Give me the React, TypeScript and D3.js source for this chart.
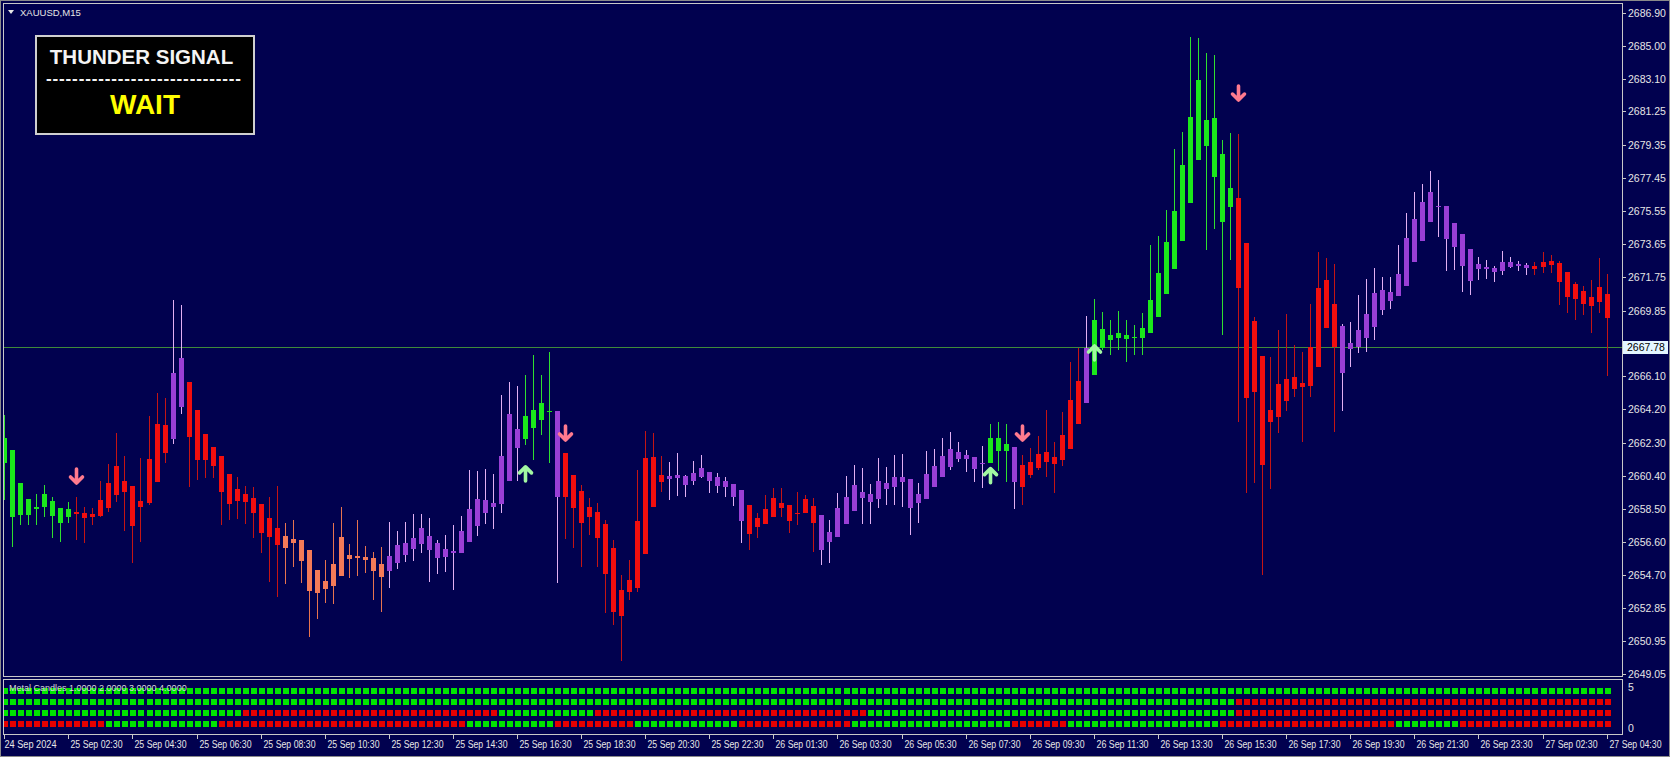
import { useEffect, useRef } from "react";
import * as d3 from "d3";

const WIDTH = 1670;
const HEIGHT = 757;

const SYMBOL = "XAUUSD,M15";
const LAST_PRICE = 2667.78;
const SIGNAL_TITLE = "THUNDER SIGNAL";
const SIGNAL_STATE = "WAIT";
const INDICATOR_NAME = "Metal Candles 1.0000 2.0000 3.0000 4.0000";

// [open, high, low, close] for each M15 bar
const CANDLES: [number, number, number, number][] = [
	[2661.15, 2663.88, 2659.01, 2662.55], [2661.87, 2661.87, 2656.34, 2658.06], [2660.00, 2660.00, 2657.58, 2658.15],
	[2658.15, 2659.07, 2657.58, 2659.07], [2658.50, 2659.35, 2657.58, 2658.63], [2658.60, 2659.87, 2658.06, 2659.35],
	[2658.95, 2659.20, 2656.82, 2658.11], [2658.54, 2658.54, 2656.62, 2657.68], [2658.06, 2658.91, 2657.68, 2658.50],
	[2658.34, 2659.20, 2656.72, 2658.19], [2658.25, 2658.63, 2656.53, 2657.96], [2658.21, 2658.54, 2657.58, 2658.06],
	[2659.01, 2660.12, 2658.06, 2658.11], [2660.00, 2661.07, 2658.34, 2658.54], [2660.96, 2662.87, 2658.91, 2659.30],
	[2660.12, 2661.53, 2657.25, 2659.49], [2659.81, 2659.81, 2655.39, 2657.54], [2658.97, 2661.40, 2656.62, 2658.63],
	[2661.34, 2663.82, 2658.73, 2658.82], [2663.35, 2665.15, 2660.06, 2660.06], [2663.31, 2664.83, 2661.15, 2661.68],
	[2662.49, 2670.46, 2662.22, 2666.30], [2664.35, 2670.17, 2663.93, 2667.15], [2665.75, 2665.75, 2659.77, 2662.60],
	[2664.16, 2664.16, 2660.16, 2661.30], [2662.79, 2662.79, 2660.26, 2661.30], [2662.06, 2662.06, 2660.26, 2660.97],
	[2661.53, 2661.53, 2657.58, 2659.49], [2660.50, 2660.50, 2657.87, 2658.77], [2659.64, 2660.35, 2657.91, 2658.97],
	[2659.35, 2659.81, 2657.64, 2658.91], [2659.11, 2659.74, 2656.82, 2658.29], [2658.77, 2658.77, 2656.00, 2657.10],
	[2657.96, 2659.20, 2654.33, 2656.91], [2657.42, 2659.81, 2653.48, 2656.43], [2656.95, 2657.71, 2654.20, 2656.25],
	[2656.78, 2657.87, 2655.19, 2656.57], [2656.72, 2656.72, 2654.28, 2655.54], [2656.15, 2656.15, 2651.15, 2653.82],
	[2655.00, 2655.00, 2652.18, 2653.67], [2653.90, 2655.58, 2653.10, 2654.39], [2654.11, 2657.71, 2653.06, 2655.33],
	[2654.66, 2658.59, 2654.66, 2656.91], [2655.85, 2656.47, 2654.53, 2655.62], [2655.71, 2657.87, 2654.66, 2655.82],
	[2655.77, 2656.38, 2654.85, 2655.58], [2655.69, 2656.05, 2653.29, 2654.95], [2654.62, 2656.31, 2652.62, 2655.35],
	[2654.96, 2657.77, 2653.96, 2655.81], [2655.39, 2657.25, 2655.04, 2656.43], [2655.86, 2657.77, 2655.48, 2656.57],
	[2656.21, 2658.19, 2655.52, 2656.85], [2656.49, 2658.19, 2655.96, 2657.39], [2656.97, 2658.00, 2654.30, 2656.15],
	[2656.57, 2656.72, 2654.76, 2655.67], [2655.77, 2657.01, 2654.91, 2656.19], [2656.09, 2657.58, 2653.86, 2655.96],
	[2655.96, 2658.11, 2655.96, 2657.23], [2656.62, 2660.73, 2656.62, 2658.50], [2657.54, 2660.67, 2656.97, 2659.07],
	[2658.29, 2660.79, 2657.62, 2659.01], [2658.59, 2660.48, 2657.35, 2658.86], [2658.77, 2665.02, 2658.25, 2661.53],
	[2660.10, 2665.78, 2660.10, 2663.93], [2663.08, 2665.55, 2660.10, 2662.01], [2662.50, 2666.17, 2662.16, 2663.82],
	[2663.15, 2667.31, 2661.30, 2664.16], [2663.59, 2666.17, 2662.73, 2664.55], [2664.10, 2667.50, 2661.11, 2664.05],
	[2664.11, 2664.11, 2654.24, 2659.20], [2661.72, 2661.72, 2656.78, 2659.20], [2660.44, 2660.44, 2656.25, 2658.54],
	[2659.53, 2659.87, 2655.19, 2657.68], [2658.63, 2659.11, 2657.01, 2658.06], [2658.34, 2658.82, 2655.19, 2656.85],
	[2657.62, 2657.87, 2652.53, 2654.76], [2656.26, 2656.72, 2651.86, 2652.60], [2653.86, 2654.72, 2649.80, 2652.37],
	[2654.43, 2655.58, 2653.29, 2653.75], [2653.98, 2660.73, 2653.75, 2657.81], [2655.92, 2662.98, 2655.92, 2661.40],
	[2658.59, 2662.83, 2658.59, 2661.49], [2660.44, 2661.53, 2659.49, 2660.06], [2660.23, 2661.20, 2659.01, 2660.39],
	[2660.29, 2661.72, 2659.24, 2660.44], [2660.40, 2660.44, 2659.17, 2659.87], [2660.12, 2661.26, 2659.87, 2660.58],
	[2660.35, 2661.59, 2660.26, 2660.86], [2660.60, 2660.60, 2659.43, 2660.10], [2660.35, 2660.58, 2659.43, 2659.83],
	[2660.12, 2660.35, 2659.17, 2659.74], [2659.93, 2659.93, 2658.67, 2659.20], [2659.58, 2659.58, 2656.53, 2657.83],
	[2658.73, 2658.73, 2656.15, 2657.06], [2657.48, 2658.25, 2656.82, 2657.96], [2657.64, 2659.30, 2657.64, 2658.50],
	[2658.02, 2659.68, 2658.02, 2659.11], [2658.86, 2659.68, 2658.02, 2658.57], [2658.73, 2658.73, 2657.10, 2657.83],
	[2658.21, 2659.49, 2657.58, 2658.29], [2658.25, 2659.30, 2658.25, 2659.05], [2658.67, 2659.11, 2656.05, 2657.68],
	[2658.15, 2658.15, 2655.29, 2656.15], [2656.62, 2657.87, 2655.39, 2657.20], [2656.91, 2659.39, 2656.91, 2658.54],
	[2657.64, 2660.39, 2657.64, 2659.20], [2658.38, 2661.02, 2658.38, 2659.87], [2659.49, 2660.83, 2657.64, 2659.14],
	[2658.91, 2659.93, 2657.64, 2659.35], [2659.07, 2661.40, 2658.54, 2660.12], [2660.00, 2660.92, 2658.73, 2659.62],
	[2659.77, 2661.59, 2658.73, 2660.35], [2660.35, 2661.64, 2658.63, 2660.06], [2660.21, 2660.21, 2657.01, 2658.54],
	[2658.86, 2659.97, 2657.71, 2659.35], [2659.07, 2661.83, 2659.07, 2660.50], [2659.77, 2661.91, 2659.77, 2660.96],
	[2660.35, 2662.55, 2660.35, 2661.53], [2660.92, 2662.89, 2660.73, 2661.93], [2661.78, 2662.35, 2661.20, 2661.34],
	[2661.59, 2661.87, 2660.63, 2661.34], [2661.46, 2661.46, 2660.06, 2660.77], [2661.10, 2662.10, 2659.68, 2661.15],
	[2661.11, 2663.36, 2661.11, 2662.55], [2662.55, 2663.49, 2660.69, 2661.83], [2661.82, 2663.35, 2660.02, 2662.20],
	[2662.03, 2662.03, 2658.50, 2660.02], [2659.77, 2661.59, 2658.73, 2661.02], [2660.44, 2661.97, 2660.26, 2661.17],
	[2660.83, 2662.69, 2660.73, 2661.63], [2661.74, 2664.16, 2660.35, 2661.20], [2661.06, 2662.35, 2659.39, 2661.49],
	[2661.30, 2664.03, 2660.97, 2662.73], [2661.93, 2666.93, 2661.93, 2664.74], [2663.35, 2667.73, 2663.35, 2665.82],
	[2664.55, 2669.54, 2664.55, 2667.73], [2666.17, 2670.52, 2666.17, 2669.31], [2667.70, 2669.76, 2667.60, 2668.80],
	[2668.17, 2669.31, 2667.31, 2668.46], [2668.27, 2669.83, 2667.60, 2668.55], [2668.23, 2669.31, 2666.89, 2668.46],
	[2668.30, 2669.03, 2667.31, 2668.36], [2668.27, 2669.70, 2667.31, 2668.84], [2668.55, 2673.61, 2668.55, 2670.46],
	[2669.50, 2674.14, 2669.50, 2671.99], [2670.79, 2675.61, 2670.79, 2673.76], [2672.23, 2679.10, 2672.23, 2675.56],
	[2673.84, 2680.09, 2673.84, 2678.19], [2675.99, 2685.53, 2675.99, 2680.95], [2678.47, 2685.44, 2678.47, 2683.05],
	[2680.76, 2684.60, 2673.32, 2679.28], [2680.88, 2684.49, 2674.51, 2677.52], [2678.82, 2679.62, 2668.46, 2674.94],
	[2675.76, 2680.02, 2672.75, 2676.85], [2676.28, 2679.96, 2663.49, 2671.13], [2673.70, 2673.70, 2659.39, 2664.83],
	[2669.28, 2669.50, 2659.97, 2665.21], [2667.26, 2667.26, 2654.72, 2661.02], [2663.49, 2667.18, 2659.62, 2664.16],
	[2663.78, 2668.74, 2662.83, 2665.65], [2664.70, 2669.66, 2664.12, 2665.94], [2666.03, 2667.88, 2664.93, 2665.35],
	[2665.46, 2667.50, 2662.35, 2665.73], [2665.54, 2670.23, 2664.93, 2667.75], [2666.61, 2673.22, 2666.61, 2671.13],
	[2668.84, 2672.85, 2668.84, 2671.60], [2670.23, 2672.52, 2662.92, 2667.75], [2666.26, 2669.08, 2664.12, 2668.97],
	[2667.64, 2669.22, 2666.64, 2668.02], [2667.79, 2670.75, 2667.41, 2668.74], [2668.27, 2671.64, 2667.50, 2669.66],
	[2668.93, 2672.28, 2668.17, 2670.84], [2669.89, 2671.76, 2669.60, 2671.03], [2670.93, 2671.76, 2669.93, 2670.42],
	[2670.69, 2673.61, 2670.69, 2671.95], [2671.26, 2675.42, 2671.26, 2673.99], [2672.65, 2676.63, 2672.65, 2675.10],
	[2673.85, 2677.10, 2673.85, 2676.05], [2674.94, 2677.86, 2674.94, 2676.63], [2675.84, 2677.33, 2674.05, 2675.77],
	[2675.84, 2675.84, 2672.14, 2673.93], [2674.85, 2674.85, 2672.18, 2673.51], [2674.24, 2674.24, 2670.93, 2672.42],
	[2673.38, 2673.38, 2670.75, 2671.56], [2672.22, 2672.94, 2671.60, 2672.52], [2672.37, 2672.75, 2671.64, 2672.22],
	[2672.31, 2672.41, 2671.51, 2672.08], [2672.14, 2673.28, 2671.89, 2672.65], [2672.37, 2672.90, 2672.27, 2672.62],
	[2672.52, 2672.71, 2672.14, 2672.42], [2672.46, 2672.60, 2671.89, 2672.31], [2672.23, 2672.65, 2671.89, 2672.42],
	[2672.33, 2673.22, 2671.99, 2672.62], [2672.69, 2673.04, 2671.99, 2672.46], [2672.56, 2672.71, 2670.17, 2671.51],
	[2672.05, 2672.05, 2669.70, 2670.65], [2671.37, 2671.51, 2669.31, 2670.52], [2670.97, 2671.26, 2669.60, 2670.23],
	[2670.65, 2671.60, 2668.55, 2670.13], [2670.36, 2672.85, 2669.70, 2671.22], [2670.79, 2671.95, 2666.11, 2669.41],
];

// candle paint of the indicator, as runs: g green, r red, p purple, c coral
const CANDLE_COLOR_RUNS: [string, number][] = [
	["g", 9], ["r", 12], ["p", 2], ["r", 12], ["c", 13], ["p", 17], ["g", 4], ["p", 1], ["r", 13], ["p", 10],
	["r", 9], ["p", 21], ["g", 3], ["p", 1], ["r", 8], ["p", 1], ["g", 18], ["r", 13], ["p", 24], ["r", 10],
];

// Metal Candles sub-window: one row per buffer level, runs of g/r
const ROW_LEVELS = [4, 3, 2, 1];
const ROW_RUNS: [string, number][][] = [
	[["g", 201]],
	[["g", 154], ["r", 47]],
	[["g", 30], ["r", 32], ["g", 12], ["r", 34], ["g", 46], ["r", 47]],
	[["r", 13], ["g", 14], ["r", 31], ["g", 11], ["r", 10], ["g", 13], ["r", 14], ["g", 20], ["r", 7], ["g", 19], ["r", 22], ["g", 8], ["r", 19]],
];

// signal arrows: bar index and price at the arrow tip
const DOWN_ARROWS = [
	{ bar: 9, price: 2659.87 },
	{ bar: 70, price: 2662.33 },
	{ bar: 127, price: 2662.33 },
	{ bar: 154, price: 2681.79 },
];
const UP_ARROWS = [
	{ bar: 65, price: 2661.02 },
	{ bar: 123, price: 2660.92 },
	{ bar: 136, price: 2667.94 },
];

const PRICE_TICKS = [
	2686.90, 2685.00, 2683.10, 2681.25, 2679.35, 2677.45, 2675.55, 2673.65, 2671.75, 2669.85,
	2666.10, 2664.20, 2662.30, 2660.40, 2658.50, 2656.60, 2654.70, 2652.85, 2650.95, 2649.05,
];

// one label every 8 bars
const TIME_LABELS = [
	"24 Sep 2024", "25 Sep 02:30", "25 Sep 04:30", "25 Sep 06:30", "25 Sep 08:30", "25 Sep 10:30",
	"25 Sep 12:30", "25 Sep 14:30", "25 Sep 16:30", "25 Sep 18:30", "25 Sep 20:30", "25 Sep 22:30",
	"26 Sep 01:30", "26 Sep 03:30", "26 Sep 05:30", "26 Sep 07:30", "26 Sep 09:30", "26 Sep 11:30",
	"26 Sep 13:30", "26 Sep 15:30", "26 Sep 17:30", "26 Sep 19:30", "26 Sep 21:30", "26 Sep 23:30",
	"27 Sep 02:30", "27 Sep 04:30",
];

const BG = "#01014f";
const FRAME = "#c8c8c8";
const TEXT = "#e6e6e6";
const FONT = "'Liberation Sans', Arial, sans-serif";

const BODY_COLORS: Record<string, string> = { g: "#1be81b", r: "#f20e0e", p: "#9a3fd6", c: "#f47a58" };
const WICK_COLORS: Record<string, string> = { g: "#2fe02f", r: "#c41414", p: "#e2b0f2", c: "#e8744f" };
const SQUARE_COLORS: Record<string, string> = { g: "#00e400", r: "#e60000" };

const expandRuns = (runs: [string, number][]) => runs.flatMap(([k, n]) => Array(n).fill(k) as string[]);

export default function App() {
	const ref = useRef<SVGSVGElement>(null);

	useEffect(() => {
		if (!ref.current) return;
		const svg = d3.select(ref.current);
		svg.selectAll("*").remove();

		// Frame geometry
		const plotLeft = 3;
		const plotRight = 1622;
		const mainTop = 3;
		const mainBottom = 676;
		const subTop = 679;
		const subBottom = 734;

		const x = d3.scaleLinear().domain([0, 200]).range([4.3, 1606.6]);
		const y = d3.scaleLinear().domain([2649.05, 2686.90]).range([674, 12.8]);
		const ySub = d3.scaleLinear().domain([0, 5]).range([735, 680]);

		svg.append("rect").attr("width", WIDTH).attr("height", HEIGHT).attr("fill", BG);
		svg.append("rect")
			.attr("x", 0.5).attr("y", 0.5).attr("width", WIDTH - 1).attr("height", HEIGHT - 1)
			.attr("fill", "none").attr("stroke", "#8a8a8a");

		const defs = svg.append("defs");
		defs.append("clipPath").attr("id", "main-clip")
			.append("rect")
			.attr("x", plotLeft + 1).attr("y", mainTop + 1)
			.attr("width", plotRight - plotLeft - 1).attr("height", mainBottom - mainTop - 1);
		defs.append("clipPath").attr("id", "sub-clip")
			.append("rect")
			.attr("x", plotLeft + 1).attr("y", subTop + 1)
			.attr("width", plotRight - plotLeft - 1).attr("height", subBottom - subTop - 1);

		// Bid line
		svg.append("line")
			.attr("x1", plotLeft).attr("x2", plotRight)
			.attr("y1", Math.round(y(LAST_PRICE)) + 0.5).attr("y2", Math.round(y(LAST_PRICE)) + 0.5)
			.attr("stroke", "#3f8a3a").attr("stroke-width", 1);

		// Candles
		const colors = expandRuns(CANDLE_COLOR_RUNS);
		const bars = CANDLES.map((c, i) => ({ i, o: c[0], h: c[1], l: c[2], c: c[3], k: colors[i] }));
		const plot = svg.append("g").attr("clip-path", "url(#main-clip)");

		plot.selectAll("line.wick")
			.data(bars)
			.join("line")
			.attr("class", "wick")
			.attr("x1", d => Math.round(x(d.i)) + 0.5)
			.attr("x2", d => Math.round(x(d.i)) + 0.5)
			.attr("y1", d => Math.round(y(d.h)))
			.attr("y2", d => Math.round(y(d.l)))
			.attr("stroke", d => WICK_COLORS[d.k])
			.attr("stroke-width", 1);

		plot.selectAll("rect.body")
			.data(bars)
			.join("rect")
			.attr("class", "body")
			.attr("x", d => Math.round(x(d.i)) - 2)
			.attr("width", 5)
			.attr("y", d => Math.round(y(Math.max(d.o, d.c))))
			.attr("height", d => Math.max(1, Math.round(y(Math.min(d.o, d.c))) - Math.round(y(Math.max(d.o, d.c)))))
			.attr("fill", d => BODY_COLORS[d.k]);

		// Signal arrows (tip at the given price)
		const arrowDown = "M0,-16 L0,-2 M-6,-8 L0,-2 L6,-8";
		const arrowUp = "M0,16 L0,2 M-6,8 L0,2 L6,8";
		plot.selectAll("path.down")
			.data(DOWN_ARROWS)
			.join("path")
			.attr("class", "down")
			.attr("transform", d => `translate(${Math.round(x(d.bar)) + 0.5},${y(d.price)})`)
			.attr("d", arrowDown)
			.attr("fill", "none")
			.attr("stroke", "#ff7a8e")
			.attr("stroke-width", 3.6)
			.attr("stroke-linecap", "round")
			.attr("stroke-linejoin", "round");
		plot.selectAll("path.up")
			.data(UP_ARROWS)
			.join("path")
			.attr("class", "up")
			.attr("transform", d => `translate(${Math.round(x(d.bar)) + 0.5},${y(d.price)})`)
			.attr("d", arrowUp)
			.attr("fill", "none")
			.attr("stroke", "#a2f7a2")
			.attr("stroke-width", 3.6)
			.attr("stroke-linecap", "round")
			.attr("stroke-linejoin", "round");

		// Panel frames
		svg.append("rect")
			.attr("x", plotLeft + 0.5).attr("y", mainTop + 0.5)
			.attr("width", plotRight - plotLeft).attr("height", mainBottom - mainTop)
			.attr("fill", "none").attr("stroke", FRAME);
		svg.append("rect")
			.attr("x", plotLeft + 0.5).attr("y", subTop + 0.5)
			.attr("width", plotRight - plotLeft).attr("height", subBottom - subTop)
			.attr("fill", "none").attr("stroke", FRAME);

		// Price axis
		const axis = svg.append("g").attr("font-family", FONT).attr("font-size", "10.5px").attr("fill", TEXT);
		PRICE_TICKS.forEach(p => {
			const ty = Math.round(y(p)) + 0.5;
			axis.append("line")
				.attr("x1", plotRight + 1).attr("x2", plotRight + 4)
				.attr("y1", ty).attr("y2", ty)
				.attr("stroke", FRAME);
			axis.append("text")
				.attr("x", plotRight + 6).attr("y", ty)
				.attr("dy", "0.35em")
				.text(p.toFixed(2));
		});

		// Last price tag
		const lp = Math.round(y(LAST_PRICE));
		svg.append("rect")
			.attr("x", plotRight + 1).attr("y", lp - 6)
			.attr("width", 45).attr("height", 13)
			.attr("fill", "#e4f6ff");
		svg.append("text")
			.attr("x", plotRight + 5).attr("y", lp + 0.5)
			.attr("dy", "0.35em")
			.attr("font-family", FONT).attr("font-size", "10.5px")
			.attr("fill", "#000000")
			.text(LAST_PRICE.toFixed(2));

		// Indicator sub-window
		const sub = svg.append("g").attr("clip-path", "url(#sub-clip)");
		ROW_RUNS.forEach((runs, r) => {
			const cells = expandRuns(runs);
			const cy = ySub(ROW_LEVELS[r]);
			sub.selectAll(`rect.row${r}`)
				.data(cells)
				.join("rect")
				.attr("class", `row${r}`)
				.attr("x", (_, i) => Math.round(x(i)) - 2)
				.attr("y", Math.round(cy) - 3)
				.attr("width", 6)
				.attr("height", 6)
				.attr("fill", d => SQUARE_COLORS[d]);
		});
		svg.append("text")
			.attr("x", 9).attr("y", 691)
			.attr("font-family", FONT).attr("font-size", "9px")
			.attr("fill", "#d8d8d8")
			.text(INDICATOR_NAME);
		[5, 0].forEach(v => {
			svg.append("text")
				.attr("x", plotRight + 6)
				.attr("y", v === 5 ? ySub(v) + 7 : ySub(v) - 7)
				.attr("dy", "0.35em")
				.attr("font-family", FONT).attr("font-size", "10.5px")
				.attr("fill", TEXT)
				.text(v);
		});

		// Time axis
		const timeAxis = svg.append("g").attr("font-family", FONT).attr("font-size", "10px").attr("fill", TEXT);
		TIME_LABELS.forEach((label, k) => {
			const tx = Math.round(x(k * 8)) + 0.5;
			timeAxis.append("line")
				.attr("x1", tx).attr("x2", tx)
				.attr("y1", subBottom + 1).attr("y2", subBottom + 5)
				.attr("stroke", FRAME);
			timeAxis.append("text")
				.attr("x", k === 0 ? tx : tx + 2)
				.attr("y", 748)
				.attr("textLength", 52)
				.attr("lengthAdjust", "spacingAndGlyphs")
				.text(label);
		});

		// Symbol caption
		svg.append("path")
			.attr("d", "M8,10 L14,10 L11,14 Z")
			.attr("fill", TEXT);
		svg.append("text")
			.attr("x", 20).attr("y", 16)
			.attr("font-family", FONT).attr("font-size", "9.5px")
			.attr("fill", TEXT)
			.text(SYMBOL);

		// Signal box
		const box = svg.append("g").attr("font-family", FONT).attr("font-weight", "bold");
		box.append("rect")
			.attr("x", 36).attr("y", 36)
			.attr("width", 218).attr("height", 98)
			.attr("fill", "#000000")
			.attr("stroke", "#cfcfcf")
			.attr("stroke-width", 2);
		box.append("text")
			.attr("x", 141.5).attr("y", 64)
			.attr("text-anchor", "middle")
			.attr("font-size", "20.5px")
			.attr("fill", "#f4f4f4")
			.text(SIGNAL_TITLE);
		box.append("text")
			.attr("x", 46).attr("y", 84)
			.attr("textLength", 195)
			.attr("lengthAdjust", "spacing")
			.attr("font-size", "17px")
			.attr("fill", "#f4f4f4")
			.text("-".repeat(30));
		box.append("text")
			.attr("x", 145).attr("y", 114)
			.attr("text-anchor", "middle")
			.attr("font-size", "28px")
			.attr("fill", "#ffff00")
			.text(SIGNAL_STATE);
	}, []);

	return (
		<svg
			ref={ref}
			width={WIDTH}
			height={HEIGHT}
			style={{ position: "absolute", left: 0, top: 0, display: "block" }}
		/>
	);
}
